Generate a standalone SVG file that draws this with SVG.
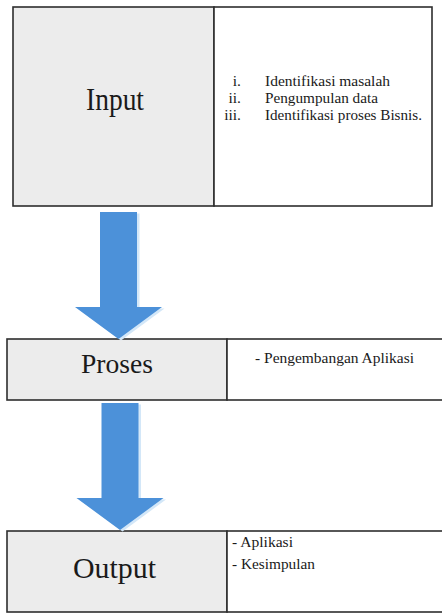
<svg xmlns="http://www.w3.org/2000/svg" width="442" height="614" viewBox="0 0 442 614">
  <style>
    .cell-key { fill: #ececec; stroke: #2e2e2e; stroke-width: 1.6; }
    .cell-val { fill: #ffffff; stroke: #2e2e2e; stroke-width: 1.6; }
    .title { font-family: "Liberation Serif", "Times New Roman", serif; fill: #1a1a1a; text-anchor: middle; }
    .item { font-family: "Liberation Serif", "Times New Roman", serif; font-size: 15.5px; fill: #1a1a1a; }
    .num { text-anchor: end; }
    .arrow-body { fill: #4c91d9; }
    .arrow-rim { fill: #d3e7f8; }
  </style>
  <defs>
    <path id="down-arrow" d="M0,0 H37 V95 H62 L18.5,127 L-25,95 H0 Z"/>
  </defs>

  <rect width="442" height="614" fill="#ffffff"/>

  <!-- Input stage -->
  <g id="node-input">
    <rect class="cell-key" x="13" y="7" width="201" height="199"/>
    <rect class="cell-val" x="214" y="7" width="218" height="199"/>
    <text class="title" x="115" y="110" font-size="32" textLength="58" lengthAdjust="spacingAndGlyphs">Input</text>
    <text class="item num" x="241" y="86">i.</text>
    <text class="item num" x="241" y="103">ii.</text>
    <text class="item num" x="241" y="120">iii.</text>
    <text class="item" x="265" y="86" textLength="125" lengthAdjust="spacingAndGlyphs">Identifikasi masalah</text>
    <text class="item" x="265" y="103" textLength="113" lengthAdjust="spacingAndGlyphs">Pengumpulan data</text>
    <text class="item" x="265" y="120" textLength="157" lengthAdjust="spacingAndGlyphs">Identifikasi proses Bisnis.</text>
  </g>

  <!-- Process stage -->
  <g id="node-proses">
    <rect class="cell-key" x="7" y="339" width="220" height="61"/>
    <rect class="cell-val" x="227" y="339" width="218" height="61"/>
    <text class="title" x="117" y="373" font-size="28" textLength="72" lengthAdjust="spacingAndGlyphs">Proses</text>
    <text class="item" x="255" y="363" textLength="159" lengthAdjust="spacingAndGlyphs">- Pengembangan Aplikasi</text>
  </g>

  <!-- Output stage -->
  <g id="node-output">
    <rect class="cell-key" x="7" y="531" width="220" height="81"/>
    <rect class="cell-val" x="227" y="531" width="218" height="81"/>
    <text class="title" x="114.5" y="578" font-size="30" textLength="83" lengthAdjust="spacingAndGlyphs">Output</text>
    <text class="item" x="232" y="547" textLength="61" lengthAdjust="spacingAndGlyphs">- Aplikasi</text>
    <text class="item" x="232" y="569" textLength="83" lengthAdjust="spacingAndGlyphs">- Kesimpulan</text>
  </g>

  <!-- Flow arrows between stages -->
  <g id="connectors">
    <g transform="translate(100,212)">
      <use href="#down-arrow" class="arrow-rim" transform="translate(2.5,1.5)"/>
      <use href="#down-arrow" class="arrow-body"/>
    </g>
    <g transform="translate(101.5,403)">
      <use href="#down-arrow" class="arrow-rim" transform="translate(2.5,1.5)"/>
      <use href="#down-arrow" class="arrow-body"/>
    </g>
  </g>
</svg>
